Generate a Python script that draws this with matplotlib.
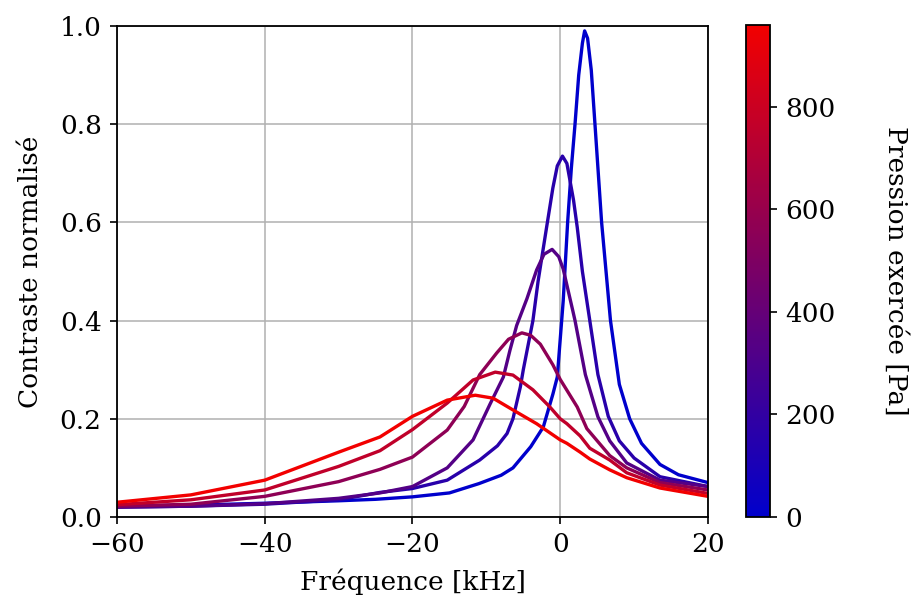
import numpy as np
import matplotlib
matplotlib.use("Agg")
from matplotlib import pyplot as plt
from matplotlib.colors import LinearSegmentedColormap, Normalize
from matplotlib.cm import ScalarMappable

plt.rcParams['font.family'] = ['DejaVu Serif']
plt.rcParams['mathtext.fontset'] = 'dejavuserif'

# pressure applied for each spectrum [Pa]
pressures = [0, 160, 330, 560, 760, 960]

# spectra: frequency [kHz] and normalised contrast
freq_0 = [-60, -50, -40, -30, -25, -20, -15, -11, -8, -6.4, -4, -2.3, -1, -0.4, 0.4, 1, 1.5, 2, 2.5,
          3, 3.3, 3.7, 4.2, 4.7, 5.6, 6.8, 8, 9.4, 11, 13.5, 16, 20]
contrast_0 = [0.022, 0.024, 0.028, 0.033, 0.036, 0.041, 0.049, 0.068, 0.085, 0.1, 0.143, 0.183, 0.25,
              0.285, 0.44, 0.6, 0.71, 0.8, 0.9, 0.965, 0.99, 0.975, 0.91, 0.8, 0.6, 0.4, 0.27, 0.2,
              0.15, 0.107, 0.086, 0.07]

freq_1 = [-60, -50, -40, -30, -24.4, -20, -15.3, -10.9, -8.5, -7.2, -6.4, -5.4, -5, -3.7, -3, -1.9,
          -1, -0.4, 0.3, 0.9, 1.8, 2.3, 3, 4, 5.1, 6.5, 8, 10, 13.5, 20]
contrast_1 = [0.02, 0.022, 0.026, 0.035, 0.05, 0.058, 0.075, 0.116, 0.145, 0.17, 0.2, 0.265, 0.3,
              0.4, 0.48, 0.585, 0.67, 0.715, 0.735, 0.72, 0.645, 0.59, 0.5, 0.4, 0.29, 0.205, 0.155,
              0.12, 0.082, 0.062]

freq_2 = [-60, -50, -40, -30, -24.4, -20, -15.3, -11.8, -9.5, -7.7, -6.8, -5.9, -4.5, -3.2, -2.2,
          -1.1, -0.2, 0.4, 1.7, 2, 3.4, 5.1, 6.7, 9, 13.5, 20]
contrast_2 = [0.02, 0.022, 0.027, 0.038, 0.049, 0.062, 0.1, 0.157, 0.23, 0.285, 0.34, 0.39, 0.445,
              0.503, 0.535, 0.545, 0.53, 0.505, 0.42, 0.4, 0.29, 0.204, 0.155, 0.11, 0.075, 0.062]

freq_3 = [-60, -50, -40, -30, -24.4, -20, -15.3, -13, -10.9, -8.6, -7, -5.2, -4, -2.7, -1, 0, 2.3,
          3.6, 6.7, 9, 13.5, 20]
contrast_3 = [0.022, 0.026, 0.042, 0.072, 0.097, 0.122, 0.177, 0.225, 0.29, 0.334, 0.362, 0.375,
              0.37, 0.352, 0.31, 0.28, 0.224, 0.18, 0.125, 0.1, 0.07, 0.055]

freq_4 = [-60, -50, -40, -30, -24.4, -20, -15.3, -11.8, -8.8, -6.4, -3.7, -1.4, 0, 0.9, 2.7, 4, 6.7,
          9, 13.5, 20]
contrast_4 = [0.025, 0.035, 0.055, 0.103, 0.135, 0.178, 0.232, 0.279, 0.295, 0.289, 0.259, 0.224, 0.2,
              0.19, 0.165, 0.14, 0.116, 0.09, 0.065, 0.048]

freq_5 = [-60, -50, -40, -30, -24.4, -20, -15.3, -11.5, -9.1, -6.4, -3.2, 0, 0.9, 2.7, 4, 6.7, 9,
          13.5, 20]
contrast_5 = [0.03, 0.045, 0.075, 0.132, 0.163, 0.205, 0.238, 0.248, 0.242, 0.218, 0.19, 0.157, 0.15,
              0.132, 0.118, 0.096, 0.08, 0.059, 0.042]

freqs = [freq_0, freq_1, freq_2, freq_3, freq_4, freq_5]
contrasts = [contrast_0, contrast_1, contrast_2, contrast_3, contrast_4, contrast_5]

cmap = LinearSegmentedColormap.from_list('bluered', [(0.0, 0.0, 0.8), (0.95, 0.0, 0.0)])
norm = Normalize(vmin=0, vmax=960)

fig = plt.figure(figsize=(9.19, 6.07), dpi=100)
ax = fig.add_axes([0.1273, 0.1483, 0.6431, 0.8089])
cax = fig.add_axes([0.8118, 0.1483, 0.0261, 0.8106])

for p, f, c in zip(pressures, freqs, contrasts):
    ax.plot(f, c, color=cmap(norm(p)), linewidth=2.4, solid_joinstyle='round')

ax.set_xlim(-60, 20)
ax.set_ylim(0, 1)
ax.set_xticks([-60, -40, -20, 0, 20])
ax.set_yticks([0, 0.2, 0.4, 0.6, 0.8, 1.0])
ax.grid(True, color='#b0b0b0', linewidth=1.1)
ax.set_axisbelow(True)
ax.tick_params(labelsize=19, width=1.2, length=5, pad=6)
for s in ax.spines.values():
    s.set_linewidth(1.3)
ax.set_xlabel('Fréquence [kHz]', fontsize=19, labelpad=8)
ax.set_ylabel('Contraste normalisé', fontsize=19, labelpad=12)

cb = fig.colorbar(ScalarMappable(norm=norm, cmap=cmap), cax=cax)
cb.set_ticks([0, 200, 400, 600, 800])
cb.ax.tick_params(labelsize=19, width=1.2, length=5, pad=6)
cb.outline.set_linewidth(1.3)
cb.set_label('Pression exercée [Pa]', fontsize=19, rotation=270, labelpad=52)

plt.savefig('out.png', dpi=100)
